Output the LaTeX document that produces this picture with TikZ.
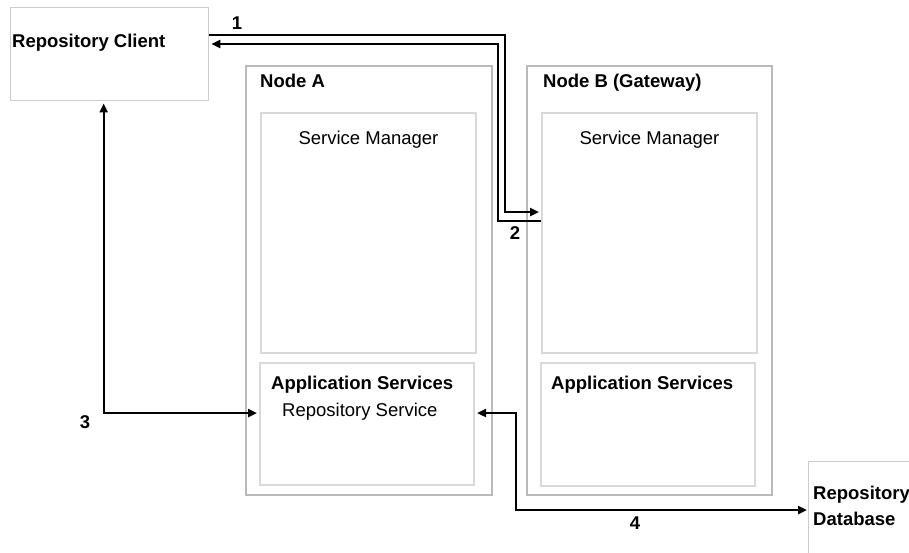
\documentclass[tikz,border=0pt]{standalone}
\usepackage{fontspec}
\setmainfont{Liberation Sans}
\usetikzlibrary{arrows.meta}
\begin{document}
\begin{tikzpicture}[x=1pt,y=-1pt,
    >={Triangle[length=9pt,width=8pt]},
    box/.style={draw, anchor=north west, inner sep=0pt},
    outer/.style={box, draw=black!27, line width=2.4pt},
    inner/.style={box, draw=black!15, line width=2pt},
    plain/.style={box, draw=black!20, line width=1.4pt},
    txt/.style={font=\fontsize{18.5}{20}\selectfont, inner sep=0pt, anchor=base west},
    bold/.style={txt, font=\fontsize{18.5}{20}\selectfont\bfseries},
    link/.style={line width=2.4pt}]
    \clip (0,0) rectangle (909,552);

    \node[plain, minimum width=198, minimum height=93] (client) at (10,7) {};
    \node[outer, minimum width=246, minimum height=429] (nodeA) at (245,65) {};
    \node[inner, minimum width=215, minimum height=240] (smA) at (260,112) {};
    \node[inner, minimum width=214, minimum height=122] (appA) at (259,362) {};
    \node[outer, minimum width=245, minimum height=429] (nodeB) at (526,65) {};
    \node[inner, minimum width=215, minimum height=240] (smB) at (541,112) {};
    \node[inner, minimum width=214, minimum height=123] (appB) at (540,362) {};
    \node[plain, minimum width=130, minimum height=120] (db) at (808,461) {};

    \node[bold] (clientT) at ([xshift=2pt,yshift=-40pt]client.north west) {Repository Client};
    \node[bold] (titleA) at ([xshift=15pt,yshift=-22pt]nodeA.north west) {Node A};
    \node[bold] (titleB) at ([xshift=17pt,yshift=-22pt]nodeB.north west) {Node B (Gateway)};
    \node[txt, anchor=base] (smAT) at ([yshift=-32pt]smA.north) {Service Manager};
    \node[txt, anchor=base] (smBT) at ([yshift=-32pt]smB.north) {Service Manager};
    \node[bold] (appAT) at ([xshift=12pt,yshift=-27pt]appA.north west) {Application Services};
    \node[txt] (repoT) at ([xshift=23pt,yshift=-54pt]appA.north west) {Repository Service};
    \node[bold] (appBT) at ([xshift=11pt,yshift=-27pt]appB.north west) {Application Services};
    \node[bold] (dbT) at ([xshift=5pt,yshift=-38pt]db.north west) {Repository};
    \node[bold] (dbT2) at ([xshift=5pt,yshift=-64pt]db.north west) {Database};

    \draw[link,->] ([yshift=-28pt]client.north east) -| (505,212) -- ([xshift=-2pt,yshift=-100pt]smB.north west);
    \draw[link,->] ([yshift=-109pt]smB.north west) -| (498,44) -- ([xshift=2pt,yshift=-37pt]client.north east);
    \draw[link,<->] ([xshift=-6pt,yshift=-2pt]client.south) |- ([xshift=-2pt,yshift=-51pt]appA.north west);
    \draw[link,<->] ([xshift=2pt,yshift=-51pt]appA.north east) -| (516,510) -- ([xshift=-1pt,yshift=-49pt]db.north west);

    \node[bold, anchor=center] (n1) at (237,23) {1};
    \node[bold, anchor=center] (n2) at (515,233) {2};
    \node[bold, anchor=center] (n3) at (85,422) {3};
    \node[bold, anchor=center] (n4) at (635,523) {4};
\end{tikzpicture}
\end{document}
